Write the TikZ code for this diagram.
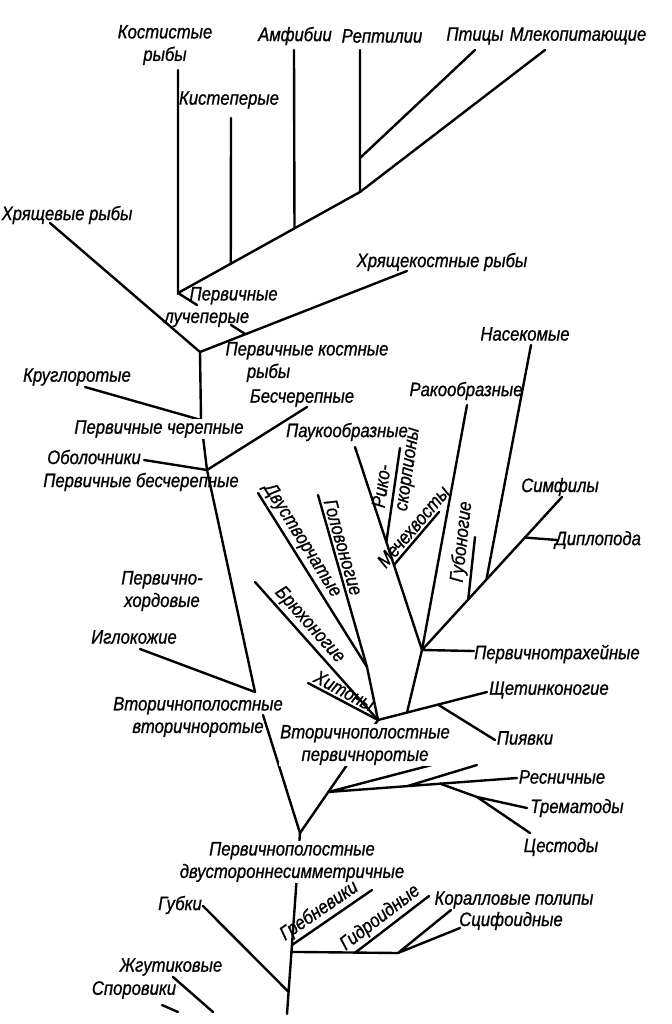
\documentclass[tikz,border=0pt]{standalone}
\usepackage{fontspec}
\newfontfamily\lab{Liberation Sans}[FakeStretch=0.86,FakeBold=0.9]
\usetikzlibrary{calc}

\begin{document}
\begin{tikzpicture}[x=0.025cm,y=-0.025cm,
	br/.style={line width=1.7pt,line cap=round},
	lbl/.style={font=\lab\itshape\fontsize{13.8}{16}\selectfont,inner sep=1pt},
	tag/.style={lbl,sloped,above,inner sep=1.5pt}]
	\useasboundingbox (0,0) rectangle (671,1024);
	% vertebrates
	\coordinate (j2) at (178,293);
	\coordinate (j1) at (200,352);
	\coordinate (jrept) at (360,192);
	\coordinate (jkist) at ($(j2)!0.29!(jrept)$);
	\coordinate (jamf) at ($(j2)!0.64!(jrept)$);
	\coordinate (jptic) at (360,158);
	\coordinate (kosttop) at (178,70);
	\coordinate (kisttop) at (231,118);
	\coordinate (amftop) at (294,50);
	\coordinate (repttop) at (360,50);
	\coordinate (pticend) at (475,50);
	\coordinate (mlekend) at (545,50);
	\coordinate (hrjaschend) at (50,223);
	\coordinate (hrkostend) at (407,271);
	\coordinate (luchA) at (197,305);
	\coordinate (luchB) at (231,325);
	\coordinate (jluch) at ($(j1)!0.22!(hrkostend)$);
	\coordinate (jkrug) at (201,420);
	\coordinate (krugend) at (85,387);
	\coordinate (jobol) at (207,470);
	\coordinate (obolend) at (144,460);
	\coordinate (beschend) at (307,407);
	\coordinate (jigl) at (255,692);
	\coordinate (iglend) at (140,649);
	\coordinate (jvt) at (263,715);
	\coordinate (jbil) at (300,833);
	% protostomes
	\coordinate (jprot) at (378,720);
	\coordinate (jmoll) at (367,667);
	\coordinate (dvustend) at (258,493);
	\coordinate (golovend) at (318,495);
	\coordinate (bruhend) at (255,582);
	\coordinate (hitend) at (308,683);
	\coordinate (shchend) at (487,692);
	\coordinate (jann1) at ($(jprot)!0.266!(shchend)$);
	\coordinate (jann2) at ($(jprot)!0.55!(shchend)$);
	\coordinate (pijavend) at (495,740);
	\coordinate (jarth) at (422,650);
	\coordinate (trahend) at (474,651);
	\coordinate (simfend) at (562,497);
	\coordinate (jgub) at ($(jarth)!0.33!(simfend)$);
	\coordinate (gubend) at (475,537);
	\coordinate (jins) at ($(jarth)!0.46!(simfend)$);
	\coordinate (insend) at (531,345);
	\coordinate (jdipl) at ($(jarth)!0.735!(simfend)$);
	\coordinate (diplend) at (557,540);
	\coordinate (rakoend) at (467,405);
	\coordinate (paukend) at (355,447);
	\coordinate (jchel1) at ($(jarth)!0.532!(paukend)$);
	\coordinate (jchel2) at ($(jarth)!0.419!(paukend)$);
	\coordinate (rikoend) at (400,448);
	\coordinate (mechend) at (439,512);
	\coordinate (jflat) at ($(jbil)!0.363!(jprot)$);
	\coordinate (resend) at (517,778);
	\coordinate (jres1) at ($(jflat)!0.418!(resend)$);
	\coordinate (jres2) at ($(jflat)!0.593!(resend)$);
	\coordinate (r1end) at (447,761);
	\coordinate (r2end) at (477,765);
	\coordinate (jres3) at (477,797);
	\coordinate (tremend) at (527,808);
	\coordinate (cestend) at (530,833);
	% lower part
	\coordinate (root) at (287,1014);
	\coordinate (jcnidA) at ($(jbil)!0.619!(root)$);
	\coordinate (jcnid) at ($(jbil)!0.657!(root)$);
	\coordinate (jspong) at ($(jbil)!0.878!(root)$);
	\coordinate (jcnid3) at (398,953);
	\coordinate (jcnid2) at ($(jcnid)!0.6!(jcnid3)$);
	\coordinate (grebend) at (372,890);
	\coordinate (gidrend) at (429,896);
	\coordinate (koralend) at (451,910);
	\coordinate (scifend) at (460,928);
	\coordinate (gubkiend) at (203,906);
	\coordinate (zhgA) at (173,977);
	\coordinate (zhgB) at (213,1012);
	\coordinate (sporA) at (162,1005);
	\coordinate (sporB) at (178,1012);

	\draw[br] (kosttop) -- (j2) -- (jrept) -- (repttop);
	\draw[br] (kisttop) -- (jkist) (amftop) -- (jamf);
	\draw[br] (pticend) -- (jptic) (mlekend) -- (jrept);
	\draw[br] (j2) -- (luchA) (luchB) -- (jluch);
	\draw[br] (hrjaschend) -- (j1) -- (hrkostend);
	\draw[br] (j1) -- (jkrug) -- (jobol) -- (jigl) (krugend) -- (jkrug);
	\draw[br] (obolend) -- (jobol) -- (beschend);
	\draw[br] (iglend) -- (jigl) (jvt) -- (jbil) -- (jprot);
	\draw[br] (jmoll) -- (jprot) -- (shchend) (jann2) -- (pijavend);
	\draw[br] (jann1) -- (jarth) -- (trahend) (jarth) -- (simfend);
	\draw[br] (jins) -- (insend) (jdipl) -- (diplend);
	\draw[br] (jarth) -- (rakoend) (jarth) -- (paukend);
	\draw[br] (jflat) -- (resend) (jflat) -- (r1end) (jres1) -- (r2end);
	\draw[br] (jres2) -- (jres3) -- (tremend) (jres3) -- (cestend);
	\draw[br] (jbil) -- (root) (gubkiend) -- (jspong);
	\draw[br] (jcnid) -- (jcnid3) -- (koralend) (jcnid3) -- (scifend);
	\draw[br] (zhgA) -- (zhgB) (sporA) -- (sporB);

	\node[lbl,align=center,fill=white] (bil) at (292,862) {Первичнополостные\\двустороннесимметричные};

	\draw[br] (dvustend) -- node[tag,pos=0.31] (dvust) {Двустворчатые} (jmoll);
	\draw[br] (golovend) -- node[tag,pos=0.32] (golov) {Головоногие} (jmoll);
	\draw[br] (bruhend) -- node[tag,pos=0.37] (bruh) {Брюхоногие} (jprot);
	\draw[br] (hitend) -- node[tag,pos=0.45] (hit) {Хитоны} (jprot);
	\draw[br] (jchel2) -- node[tag,pos=0.6] (mech) {Мечехвосты} (mechend);
	\draw[br] (jchel1) -- node[lbl,sloped,pos=0.79,align=left] (riko) {Рико-\\скорпионы} (rikoend);
	\draw[br] (jgub) -- node[tag,pos=0.9] (gubon) {Губоногие} (gubend);
	\draw[br] (jcnidA) -- node[tag,pos=0.43] (greb) {Гребневики} (grebend);
	\draw[br] (jcnid2) -- node[tag,pos=0.44] (gidr) {Гидроидные} (gidrend);

	\node[lbl,align=center] (kost) at (165,45) {Костистые\\рыбы};
	\node[lbl] (kist) at (229,100) {Кистеперые};
	\node[lbl] (amf) at (295,36) {Амфибии};
	\node[lbl] (rept) at (382,36) {Рептилии};
	\node[lbl] (ptic) at (475,36) {Птицы};
	\node[lbl] (mlek) at (578,36) {Млекопитающие};
	\node[lbl] (hrjasch) at (67,215) {Хрящевые рыбы};
	\node[lbl] (hrkost) at (442,262) {Хрящекостные рыбы};
	\node[lbl,align=left] (luch) at (221,307) {\hspace*{1.3em}Первичные\\лучеперые};
	\node[lbl,align=left] (kostn) at (307,362) {Первичные костные\\\hspace*{1.1em}рыбы};
	\node[lbl] (nasek) at (525,334) {Насекомые};
	\node[lbl] (krug) at (77,377) {Круглоротые};
	\node[lbl] (besch) at (302,398) {Бесчерепные};
	\node[lbl] (rako) at (466,391) {Ракообразные};
	\node[lbl,fill=white] (cherep) at (159,429) {Первичные черепные};
	\node[lbl] (pauk) at (347,432) {Паукообразные};
	\node[lbl] (obol) at (94,457) {Оболочники};
	\node[lbl] (bescherep) at (141,482) {Первичные бесчерепные};
	\node[lbl] (simf) at (560,487) {Симфилы};
	\node[lbl] (dipl) at (598,540) {Диплопода};
	\node[lbl,align=center] (hord) at (162,591) {Первично-\\хордовые};
	\node[lbl] (igl) at (134,637) {Иглокожие};
	\node[lbl] (trah) at (557,654) {Первичнотрахейные};
	\node[lbl] (shch) at (549,690) {Щетинконогие};
	\node[lbl,align=center] (vtorvt) at (198,717) {Вторичнополостные\\вторичноротые};
	\node[lbl] (pijav) at (525,738) {Пиявки};
	\node[lbl,align=center,fill=white] (vtorpr) at (365,745) {Вторичнополостные\\первичноротые};
	\node[lbl] (resn) at (562,777) {Ресничные};
	\node[lbl] (trem) at (577,808) {Трематоды};
	\node[lbl] (cest) at (561,847) {Цестоды};
	\node[lbl] (gubki) at (180,905) {Губки};
	\node[lbl] (koral) at (514,900) {Коралловые полипы};
	\node[lbl] (scif) at (511,921) {Сцифоидные};
	\node[lbl] (zhgut) at (171,967) {Жгутиковые};
	\node[lbl] (spor) at (134,990) {Споровики};
\end{tikzpicture}
\end{document}
